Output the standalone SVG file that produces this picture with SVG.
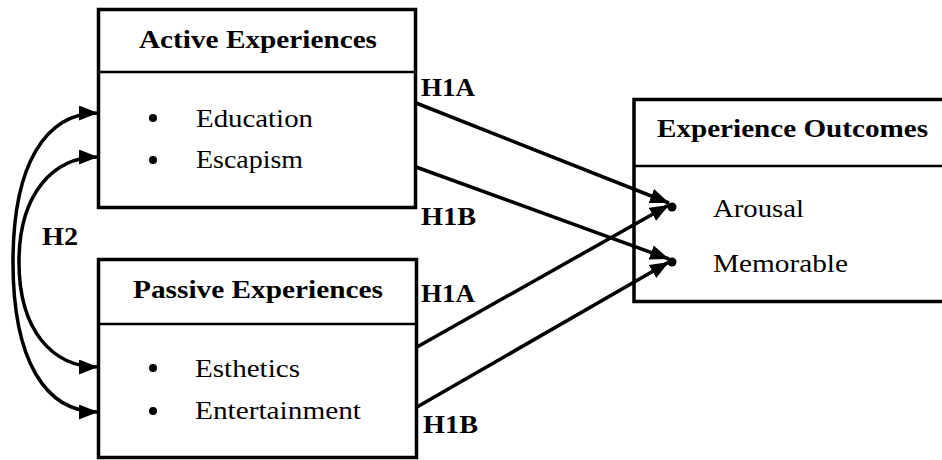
<svg xmlns="http://www.w3.org/2000/svg" width="942" height="460" viewBox="0 0 942 460">
<defs>
<marker id="ah" markerUnits="userSpaceOnUse" markerWidth="22" markerHeight="16" refX="19" refY="7.5" orient="auto-start-reverse">
<path d="M0,0 L19,7.5 L0,15 z" fill="#000"/>
</marker>
<style>
.box{fill:#fff;stroke:#000;stroke-width:3.5}
.div{stroke:#000;stroke-width:2.5}
text{font-family:'Liberation Serif','Times New Roman',serif;font-size:26px;fill:#000}
.b{font-weight:bold}
.dot{fill:#000}
.c{fill:none;stroke:#000;stroke-width:3.5}
</style>
</defs>
<rect width="942" height="460" fill="#fff"/>
<g id="active">
<rect class="box" x="98.5" y="9.5" width="317" height="198"/>
<line class="div" x1="98.5" y1="72" x2="415.5" y2="72"/>
<text class="b" x="139" y="48" textLength="238" lengthAdjust="spacingAndGlyphs">Active Experiences</text>
<circle class="dot" cx="153" cy="118" r="4"/>
<text x="196" y="127" textLength="117" lengthAdjust="spacingAndGlyphs">Education</text>
<circle class="dot" cx="153" cy="160" r="4"/>
<text x="196" y="168" textLength="107" lengthAdjust="spacingAndGlyphs">Escapism</text>
</g>
<g id="passive">
<rect class="box" x="98.5" y="259.5" width="318" height="198"/>
<line class="div" x1="98.5" y1="324" x2="416.5" y2="324"/>
<text class="b" x="133" y="298" textLength="250" lengthAdjust="spacingAndGlyphs">Passive Experiences</text>
<circle class="dot" cx="153" cy="368" r="4"/>
<text x="195" y="377" textLength="105" lengthAdjust="spacingAndGlyphs">Esthetics</text>
<circle class="dot" cx="153" cy="411" r="4"/>
<text x="195" y="419" textLength="166" lengthAdjust="spacingAndGlyphs">Entertainment</text>
</g>
<g id="outcomes">
<rect class="box" x="634" y="99.5" width="320" height="202"/>
<line class="div" x1="634" y1="166" x2="942" y2="166"/>
<text class="b" x="657" y="137" textLength="271" lengthAdjust="spacingAndGlyphs">Experience Outcomes</text>
<circle class="dot" cx="672" cy="207" r="4.5"/>
<text x="713" y="217" textLength="91" lengthAdjust="spacingAndGlyphs">Arousal</text>
<circle class="dot" cx="672" cy="262" r="4.5"/>
<text x="713" y="272" textLength="135" lengthAdjust="spacingAndGlyphs">Memorable</text>
</g>
<g id="connectors">
<path class="c" d="M98,113 C45,113 13,165 13,262 C13,360 45,412 98,412" marker-start="url(#ah)" marker-end="url(#ah)"/>
<path class="c" d="M98,157 C52,157 19,195 19,262 C19,330 52,367 98,367" marker-start="url(#ah)" marker-end="url(#ah)"/>
<line class="c" x1="416" y1="103" x2="669" y2="203" marker-end="url(#ah)"/>
<line class="c" x1="416" y1="167" x2="669" y2="259" marker-end="url(#ah)"/>
<line class="c" x1="417" y1="347" x2="669" y2="205" marker-end="url(#ah)"/>
<line class="c" x1="417" y1="407" x2="669" y2="262" marker-end="url(#ah)"/>
<text class="b" x="421" y="96" textLength="54" lengthAdjust="spacingAndGlyphs">H1A</text>
<text class="b" x="421" y="225" textLength="55" lengthAdjust="spacingAndGlyphs">H1B</text>
<text class="b" x="421" y="302" textLength="54" lengthAdjust="spacingAndGlyphs">H1A</text>
<text class="b" x="423" y="433" textLength="55" lengthAdjust="spacingAndGlyphs">H1B</text>
<text class="b" x="42" y="245" textLength="36" lengthAdjust="spacingAndGlyphs">H2</text>
</g>
</svg>
